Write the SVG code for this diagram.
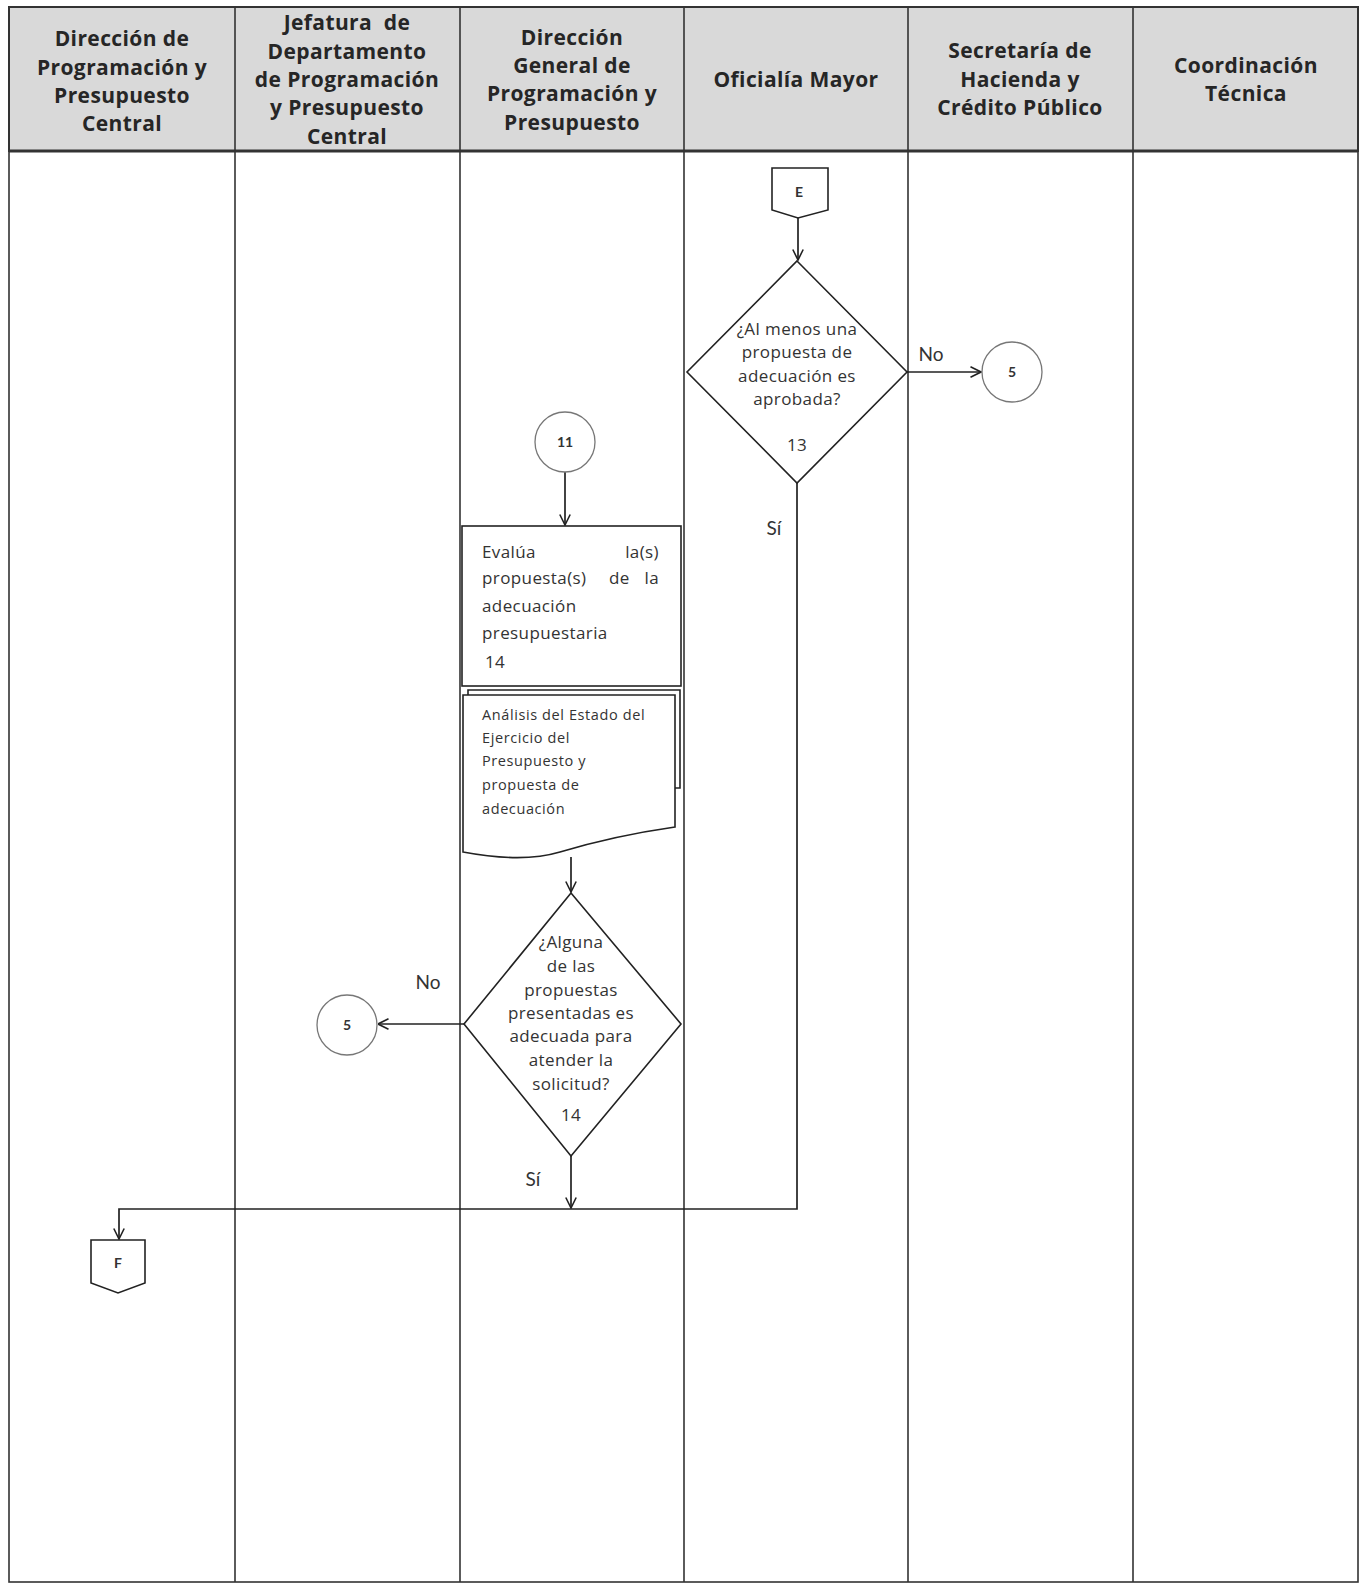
<svg xmlns="http://www.w3.org/2000/svg" width="1361" height="1585" viewBox="0 0 1361 1585">
  <defs>
    <marker id="arr" viewBox="0 0 12 12" refX="11.5" refY="6" markerWidth="12" markerHeight="12" markerUnits="userSpaceOnUse" orient="auto">
      <path d="M1,0.8 L11.5,6 L1,11.2" fill="none" stroke="#222" stroke-width="1.6"/>
    </marker>
    <style>
      .lane { fill: none; stroke: #333; stroke-width: 1.6; }
      .hdr { fill: #d9d9d9; stroke: #333; stroke-width: 2; }
      .hdr-text { font-family: "Open Sans", "Lato", sans-serif; font-weight: 700; font-size: 21px; letter-spacing: 0.4px; fill: #262626; text-anchor: middle; }
      .shape { fill: #fff; stroke: #222; stroke-width: 1.6; }
      .conn { fill: none; stroke: #222; stroke-width: 1.7; }
      .circ { fill: #fff; stroke: #777; stroke-width: 1.3; }
      .t { font-family: "Open Sans", "Lato", sans-serif; font-size: 17px; letter-spacing: 0.4px; fill: #333; }
      .tc { text-anchor: middle; }
      .small { font-size: 14.5px; letter-spacing: 0.6px; }
      .lbl { font-family: "Lato", "Open Sans", sans-serif; font-size: 19px; fill: #333; text-anchor: middle; }
      .mark { font-family: "Lato", "Open Sans", sans-serif; font-size: 14px; font-weight: 700; fill: #333; text-anchor: middle; }
    </style>
  </defs>

  <rect width="1361" height="1585" fill="#fff"/>

  <!-- swimlane frame and header -->
  <g id="lanes">
    <rect class="hdr" x="9" y="7" width="1349" height="144"/>
    <rect class="lane" x="9" y="7" width="1349" height="1575"/>
    <line x1="9" y1="151" x2="1358" y2="151" stroke="#333" stroke-width="3"/>
    <line class="lane" x1="235" y1="7" x2="235" y2="1582"/>
    <line class="lane" x1="460" y1="7" x2="460" y2="1582"/>
    <line class="lane" x1="684" y1="7" x2="684" y2="1582"/>
    <line class="lane" x1="908" y1="7" x2="908" y2="1582"/>
    <line class="lane" x1="1133" y1="7" x2="1133" y2="1582"/>

    <text class="hdr-text"><tspan x="122" y="46">Dirección de</tspan><tspan x="122" y="75">Programación y</tspan><tspan x="122" y="103">Presupuesto</tspan><tspan x="122" y="131">Central</tspan></text>
    <text class="hdr-text"><tspan x="347" y="30">Jefatura&#160; de</tspan><tspan x="347" y="59">Departamento</tspan><tspan x="347" y="87">de Programación</tspan><tspan x="347" y="115">y Presupuesto</tspan><tspan x="347" y="144">Central</tspan></text>
    <text class="hdr-text"><tspan x="572" y="45">Dirección</tspan><tspan x="572" y="73">General de</tspan><tspan x="572" y="101">Programación y</tspan><tspan x="572" y="130">Presupuesto</tspan></text>
    <text class="hdr-text" x="796" y="87">Oficialía Mayor</text>
    <text class="hdr-text"><tspan x="1020" y="58">Secretaría de</tspan><tspan x="1020" y="87">Hacienda y</tspan><tspan x="1020" y="115">Crédito Público</tspan></text>
    <text class="hdr-text"><tspan x="1246" y="73">Coordinación</tspan><tspan x="1246" y="101">Técnica</tspan></text>
  </g>

  <!-- connectors -->
  <g id="connectors">
    <path class="conn" d="M798,218 V260" marker-end="url(#arr)"/>
    <path class="conn" d="M907,372 H981" marker-end="url(#arr)"/>
    <path class="conn" d="M797,483 V1209 H119 V1239" marker-end="url(#arr)"/>
    <path class="conn" d="M565,472 V525" marker-end="url(#arr)"/>
    <path class="conn" d="M571,857 V892" marker-end="url(#arr)"/>
    <path class="conn" d="M464,1024 H378" marker-end="url(#arr)"/>
    <path class="conn" d="M571,1156 V1208" marker-end="url(#arr)"/>
    <text class="lbl" x="931" y="361">No</text>
    <text class="lbl" x="774" y="535">Sí</text>
    <text class="lbl" x="428" y="989">No</text>
    <text class="lbl" x="533" y="1186">Sí</text>
  </g>

  <!-- off-page connector E -->
  <g id="node-E">
    <path class="shape" d="M772,168 H828 V210 L798,218 L772,210 Z"/>
    <text class="mark" x="799" y="197">E</text>
  </g>

  <!-- decision 13 -->
  <g id="node-13">
    <path class="shape" d="M797,261 L907,372 L797,483 L687,372 Z"/>
    <text class="t tc"><tspan x="797" y="335">¿Al menos una</tspan><tspan x="797" y="358">propuesta de</tspan><tspan x="797" y="382">adecuación es</tspan><tspan x="797" y="405">aprobada?</tspan><tspan x="797" y="451">13</tspan></text>
  </g>

  <!-- connector circle 5 (right) -->
  <g id="node-5a">
    <circle class="circ" cx="1012" cy="372" r="30"/>
    <text class="mark" x="1012" y="377">5</text>
  </g>

  <!-- connector circle 11 -->
  <g id="node-11">
    <circle class="circ" cx="565" cy="442" r="30"/>
    <text class="mark" x="565" y="447">11</text>
  </g>

  <!-- activity 14 -->
  <g id="node-14">
    <rect class="shape" x="462" y="526" width="219" height="160"/>
    <text class="t" x="482" y="558">Evalúa</text>
    <text class="t" x="659" y="558" text-anchor="end">la(s)</text>
    <text class="t" x="482" y="584">propuesta(s)</text>
    <text class="t" x="609" y="584">de</text>
    <text class="t" x="659" y="584" text-anchor="end">la</text>
    <text class="t" x="482" y="612">adecuación</text>
    <text class="t" x="482" y="639">presupuestaria</text>
    <text class="t" x="485" y="668">14</text>
  </g>

  <!-- output documents -->
  <g id="node-doc">
    <path class="shape" d="M468,690 H680 V788 H468 Z"/>
    <path class="shape" d="M463,695 H675 V827 C640,832 600,840 560,852 C530,861 495,858 463,852 Z"/>
    <text class="t small"><tspan x="482" y="720">Análisis del Estado del</tspan><tspan x="482" y="743">Ejercicio del</tspan><tspan x="482" y="766">Presupuesto y</tspan><tspan x="482" y="790">propuesta de</tspan><tspan x="482" y="814">adecuación</tspan></text>
  </g>

  <!-- decision 14 -->
  <g id="node-d14">
    <path class="shape" d="M571,893 L681,1024 L571,1156 L464,1024 Z"/>
    <text class="t tc"><tspan x="571" y="948">¿Alguna</tspan><tspan x="571" y="972">de las</tspan><tspan x="571" y="996">propuestas</tspan><tspan x="571" y="1019">presentadas es</tspan><tspan x="571" y="1042">adecuada para</tspan><tspan x="571" y="1066">atender la</tspan><tspan x="571" y="1090">solicitud?</tspan><tspan x="571" y="1121">14</tspan></text>
  </g>

  <!-- connector circle 5 (left) -->
  <g id="node-5b">
    <circle class="circ" cx="347" cy="1025" r="30"/>
    <text class="mark" x="347" y="1030">5</text>
  </g>

  <!-- off-page connector F -->
  <g id="node-F">
    <path class="shape" d="M91,1240 H145 V1283 L118,1293 L91,1283 Z"/>
    <text class="mark" x="118" y="1268">F</text>
  </g>
</svg>
